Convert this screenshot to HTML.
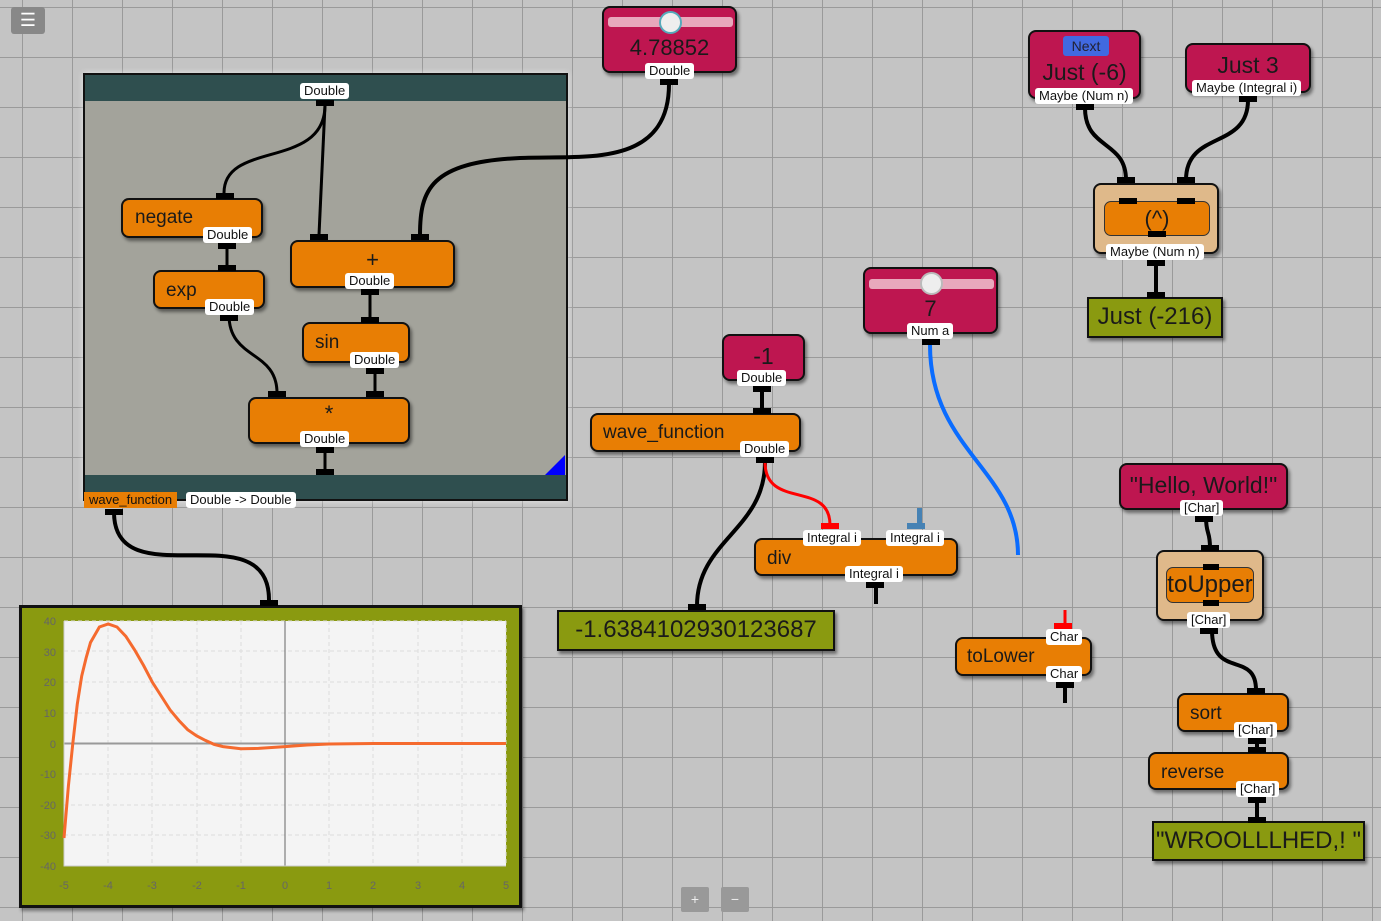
<!DOCTYPE html>
<html><head><meta charset="utf-8"><style>
*{box-sizing:border-box;margin:0;padding:0}
body{width:1381px;height:921px;overflow:hidden;position:relative;font-family:"Liberation Sans",sans-serif;
background-color:#c4c4c4;
background-image:linear-gradient(#9a9a9a 1px,transparent 1px),linear-gradient(90deg,#9a9a9a 1px,transparent 1px);
background-size:50px 50px;background-position:22px 7px}
.n{position:absolute;border:2px solid #111;border-radius:8px;box-shadow:2px 3px 3px rgba(0,0,0,.45);color:#1a1a1a;font-size:19px}
.o{background:#e87e04}.r{background:#be1650}.g{background:#8a9a10;border-radius:0;font-size:24px;text-align:center}
.t{background:#dfb98a}
.l{position:absolute;background:#fff;border-radius:3px;font-size:13px;line-height:16px;padding:0 4px;color:#111;white-space:nowrap;z-index:5}
.p{position:absolute;background:#000;width:18px;height:6px;z-index:4}
svg{position:absolute;left:0;top:0}
</style></head><body>

<div style="position:absolute;left:11px;top:7px;width:34px;height:27px;background:#888;border-radius:3px;color:#fff;font-size:18px;text-align:center;line-height:27px">☰</div>

<!-- frame -->
<div style="position:absolute;left:83px;top:73px;width:485px;height:428px;border:2px solid #111;background:#a3a39b;box-shadow:0 0 6px rgba(255,255,255,.6)">
 <div style="position:absolute;left:0;top:0;right:0;height:26px;background:#2f4f4f"></div>
 <div style="position:absolute;left:0;bottom:0;right:0;height:24px;background:#2f4f4f"></div>
 <div style="position:absolute;right:1px;bottom:24px;width:0;height:0;border-left:20px solid transparent;border-bottom:20px solid #00f"></div>
</div>
<div class="l" style="left:84px;top:492px;background:#e87e04;border-radius:0;padding:0 5px">wave_function</div>
<div class="l" style="left:186px;top:492px">Double -&gt; Double</div>

<svg width="1381" height="921" style="z-index:2">
<g fill="none" stroke="#000" stroke-width="3">
<path d="M325,105 C325,170 224,140 224,193"/>
<path d="M325,105 L319,235"/>
<path d="M227,244 L227,268"/>
<path d="M229,315 C229,360 277,350 277,393"/>
<path d="M370,292 L370,320"/>
<path d="M375,368 L375,393"/>
<path d="M325,450 L325,472"/>
</g>
<g fill="none" stroke="#000" stroke-width="4">
<path d="M669,84 C669,170 580,155 520,158 C430,162 420,190 420,235"/>
<path d="M114,512 C114,600 269,510 269,600"/>
<path d="M762,392 L762,410"/>
<path d="M765,462 C765,530 697,540 697,606"/>
<path d="M876,580 L876,604"/>
<path d="M1065,680 L1065,703"/>
<path d="M1085,108 C1085,150 1126,140 1126,180"/>
<path d="M1248,100 C1248,150 1186,130 1186,180"/>
<path d="M1156,262 L1156,295"/>
<path d="M1206,517 C1206,535 1210,530 1210,548"/>
<path d="M1212,630 C1212,680 1256,650 1256,690"/>
<path d="M1257,738 L1257,750"/>
<path d="M1257,797 L1257,818"/>
</g>
<path d="M765,462 C765,510 830,480 830,525" fill="none" stroke="#f00" stroke-width="3"/>
<path d="M1065,610 L1065,626" stroke="#f00" stroke-width="3"/>
<path d="M930,345 C930,450 1018,470 1018,555" fill="none" stroke="#0a6cff" stroke-width="4"/>
<rect x="917" y="508" width="5" height="20" fill="#4682b4"/>
</svg>

<!-- inner frame nodes -->
<div class="l" style="left:300px;top:83px">Double</div><div class="p" style="left:316px;top:100px"></div>
<div class="n o" style="left:121px;top:198px;width:142px;height:40px;padding:7px 12px">negate</div>
<div class="p" style="left:216px;top:193px"></div>
<div class="l" style="left:203px;top:227px">Double</div><div class="p" style="left:218px;top:243px"></div>
<div class="p" style="left:218px;top:265px"></div>
<div class="n o" style="left:153px;top:270px;width:112px;height:39px;padding:8px 11px">exp</div>
<div class="l" style="left:205px;top:299px">Double</div><div class="p" style="left:220px;top:315px"></div>
<div class="p" style="left:310px;top:234px"></div><div class="p" style="left:411px;top:234px"></div>
<div class="n o" style="left:290px;top:240px;width:165px;height:48px;text-align:center;padding-top:5px;font-size:22px">+</div>
<div class="l" style="left:345px;top:273px">Double</div><div class="p" style="left:361px;top:289px"></div>
<div class="p" style="left:361px;top:317px"></div>
<div class="n o" style="left:302px;top:322px;width:108px;height:41px;padding:8px 11px">sin</div>
<div class="l" style="left:350px;top:352px">Double</div><div class="p" style="left:366px;top:368px"></div>
<div class="p" style="left:268px;top:391px"></div><div class="p" style="left:366px;top:391px"></div>
<div class="n o" style="left:248px;top:397px;width:162px;height:47px;text-align:center;font-size:22px;padding-top:2px">*</div>
<div class="l" style="left:300px;top:431px">Double</div><div class="p" style="left:316px;top:447px"></div>
<div class="p" style="left:316px;top:469px"></div>
<div class="p" style="left:105px;top:509px"></div>

<!-- slider 4.78852 -->
<div class="n r" style="left:602px;top:6px;width:135px;height:67px;text-align:center;padding-top:27px;font-size:22px">4.78852
 <div style="position:absolute;left:4px;top:9px;width:125px;height:10px;background:#e8a8bc;border-radius:3px"></div>
 <div style="position:absolute;left:55px;top:3px;width:23px;height:23px;border-radius:50%;background:#eee;border:2px solid #5ab"></div>
</div>
<div class="l" style="left:645px;top:63px">Double</div><div class="p" style="left:660px;top:79px"></div>

<!-- Just -6 -->
<div class="n r" style="left:1028px;top:30px;width:113px;height:69px;text-align:center;padding-top:27px;font-size:23px">Just (-6)
 <div style="position:absolute;left:33px;top:4px;width:46px;height:20px;background:#4169e1;border-radius:3px;font-size:14px;line-height:20px;color:#223">Next</div>
</div>
<div class="l" style="left:1035px;top:88px">Maybe (Num n)</div><div class="p" style="left:1076px;top:104px"></div>
<div class="n r" style="left:1185px;top:43px;width:126px;height:50px;text-align:center;padding-top:7px;font-size:23px">Just 3</div>
<div class="l" style="left:1192px;top:80px">Maybe (Integral i)</div><div class="p" style="left:1239px;top:96px"></div>

<!-- (^) -->
<div class="p" style="left:1117px;top:177px"></div><div class="p" style="left:1177px;top:177px"></div>
<div class="n t" style="left:1093px;top:183px;width:126px;height:71px">
 <div style="position:absolute;left:9px;top:16px;width:106px;height:35px;background:#e87e04;border:1px solid #333;border-radius:7px;text-align:center;font-size:22px;line-height:33px">(^)</div>
 <div class="p" style="left:24px;top:13px"></div><div class="p" style="left:82px;top:13px"></div><div class="p" style="left:53px;top:46px"></div>
</div>
<div class="l" style="left:1106px;top:244px">Maybe (Num n)</div><div class="p" style="left:1147px;top:260px"></div>
<div class="p" style="left:1147px;top:292px"></div>
<div class="n g" style="left:1087px;top:297px;width:136px;height:41px;line-height:36px">Just (-216)</div>

<!-- slider 7 -->
<div class="n r" style="left:863px;top:267px;width:135px;height:67px;text-align:center;padding-top:27px;font-size:22px">7
 <div style="position:absolute;left:4px;top:10px;width:125px;height:10px;background:#e8a8bc;border-radius:3px"></div>
 <div style="position:absolute;left:55px;top:3px;width:23px;height:23px;border-radius:50%;background:#eee;border:2px solid #bbb"></div>
</div>
<div class="l" style="left:907px;top:323px">Num a</div><div class="p" style="left:922px;top:339px"></div>

<!-- -1 -->
<div class="n r" style="left:722px;top:334px;width:83px;height:47px;text-align:center;padding-top:7px;font-size:23px">-1</div>
<div class="l" style="left:737px;top:370px">Double</div><div class="p" style="left:753px;top:386px"></div>
<div class="p" style="left:753px;top:408px"></div>
<div class="n o" style="left:590px;top:413px;width:211px;height:39px;padding:7px 11px">wave_function</div>
<div class="l" style="left:740px;top:441px">Double</div><div class="p" style="left:756px;top:457px"></div>

<!-- div -->
<div class="p" style="left:821px;top:523px;background:#f00"></div><div class="p" style="left:907px;top:523px;background:#4682b4"></div>
<div class="n o" style="left:754px;top:538px;width:204px;height:38px;padding:8px 11px">div</div>
<div class="l" style="left:803px;top:530px">Integral i</div><div class="l" style="left:886px;top:530px">Integral i</div>
<div class="l" style="left:845px;top:566px">Integral i</div><div class="p" style="left:866px;top:582px"></div>

<div class="p" style="left:688px;top:604px"></div>
<div class="n g" style="left:557px;top:610px;width:278px;height:41px;line-height:36px">-1.6384102930123687</div>

<!-- toLower -->
<div class="p" style="left:1054px;top:623px;background:#f00"></div>
<div class="n o" style="left:955px;top:637px;width:137px;height:39px;padding:7px 10px">toLower</div>
<div class="l" style="left:1046px;top:629px">Char</div><div class="l" style="left:1046px;top:666px">Char</div>
<div class="p" style="left:1056px;top:682px"></div>

<!-- Hello world chain -->
<div class="n r" style="left:1119px;top:463px;width:169px;height:47px;text-align:center;padding-top:7px;font-size:23px">"Hello, World!"</div>
<div class="l" style="left:1180px;top:500px">[Char]</div><div class="p" style="left:1195px;top:516px"></div>
<div class="p" style="left:1201px;top:545px"></div>
<div class="n t" style="left:1156px;top:550px;width:108px;height:71px">
 <div style="position:absolute;left:8px;top:15px;width:88px;height:36px;background:#e87e04;border:1px solid #333;border-radius:7px;text-align:center;font-size:24px;line-height:34px">toUpper</div>
 <div class="p" style="left:45px;top:12px;width:16px"></div><div class="p" style="left:45px;top:48px;width:16px"></div>
</div>
<div class="l" style="left:1187px;top:612px">[Char]</div><div class="p" style="left:1200px;top:628px"></div>
<div class="p" style="left:1247px;top:688px"></div>
<div class="n o" style="left:1177px;top:693px;width:112px;height:39px;padding:8px 11px">sort</div>
<div class="l" style="left:1234px;top:722px">[Char]</div><div class="p" style="left:1248px;top:738px"></div>
<div class="p" style="left:1248px;top:747px"></div>
<div class="n o" style="left:1148px;top:752px;width:141px;height:38px;padding:8px 11px">reverse</div>
<div class="l" style="left:1236px;top:781px">[Char]</div><div class="p" style="left:1248px;top:797px"></div>
<div class="p" style="left:1248px;top:817px"></div>
<div class="n g" style="left:1152px;top:821px;width:213px;height:40px;line-height:36px">"WROOLLLHED,! "</div>

<!-- chart -->
<div class="p" style="left:260px;top:600px"></div>
<div style="position:absolute;left:19px;top:605px;width:503px;height:303px;background:#8a9a10;border:3px solid #111;box-shadow:2px 3px 3px rgba(0,0,0,.4)"></div>
<svg width="1381" height="921" style="z-index:3">
<rect x="64" y="621" width="442" height="245" fill="#f4f4f4"/>
<g stroke="#ddd" stroke-dasharray="4,3" stroke-width="1">
<path d="M108,621V866M152,621V866M197,621V866M241,621V866M329,621V866M373,621V866M418,621V866M462,621V866M506,621V866"/>
<path d="M64,651H506M64,682H506M64,713H506M64,774H506M64,805H506M64,835H506M64,621H506"/>
</g>
<path d="M64,743.5H506" stroke="#999" stroke-width="2"/>
<path d="M285,621V866" stroke="#666" stroke-width="1"/>
<path d="M64,621V866H506" stroke="#ccc" stroke-width="1" fill="none"/>
<polyline fill="none" stroke="#f56a2e" stroke-width="3" points="64,838 68.4,786 72.8,743.5 77.3,704 81.7,676 86.1,658 90.5,642.5 99.4,627 108.2,624 117,627 125.9,636.4 134.7,650 143.6,665.5 152.4,682.3 161.2,696 170,709.8 178.9,720.5 187.7,729.7 196.6,735.8 205.4,740.4 214.2,744.4 223,746.6 240.8,748.7 258.5,748.4 285,746.6 307,745 329,744 373.6,743.5 506,743.5"/>
<g font-family="Liberation Sans" font-size="11" fill="#666" text-anchor="end">
<text x="56" y="625">40</text><text x="56" y="656">30</text><text x="56" y="686">20</text><text x="56" y="717">10</text><text x="56" y="748">0</text><text x="56" y="778">-10</text><text x="56" y="809">-20</text><text x="56" y="839">-30</text><text x="56" y="870">-40</text>
</g>
<g font-family="Liberation Sans" font-size="11" fill="#666" text-anchor="middle">
<text x="64" y="889">-5</text><text x="108" y="889">-4</text><text x="152" y="889">-3</text><text x="197" y="889">-2</text><text x="241" y="889">-1</text><text x="285" y="889">0</text><text x="329" y="889">1</text><text x="373" y="889">2</text><text x="418" y="889">3</text><text x="462" y="889">4</text><text x="506" y="889">5</text>
</g>
</svg>

<div style="position:absolute;left:681px;top:887px;width:28px;height:25px;background:#999;color:#eee;text-align:center;line-height:25px;font-size:14px;border-radius:2px">+</div>
<div style="position:absolute;left:721px;top:887px;width:28px;height:25px;background:#999;color:#eee;text-align:center;line-height:25px;font-size:14px;border-radius:2px">−</div>
</body></html>
